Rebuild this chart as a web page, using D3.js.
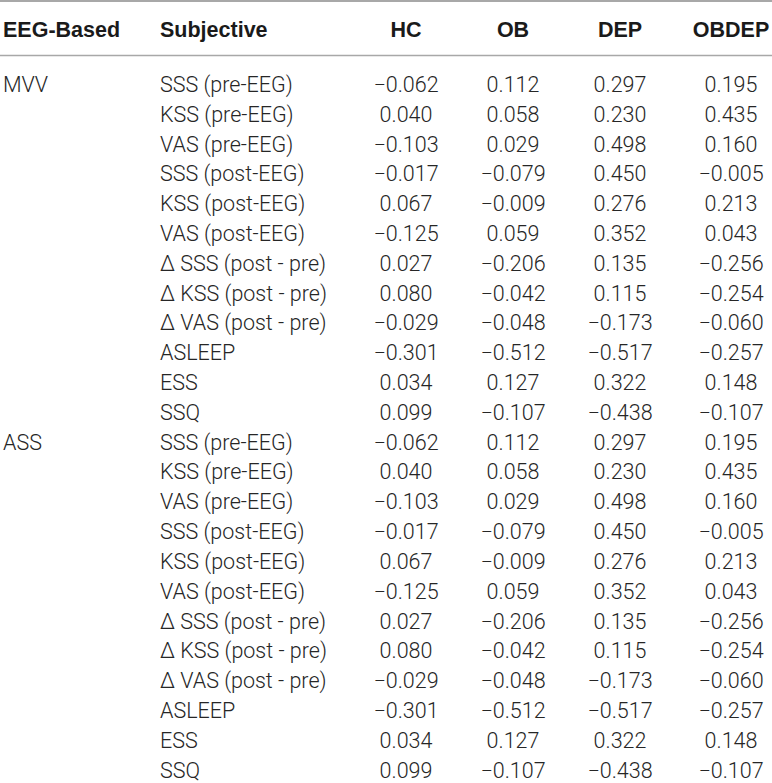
<!DOCTYPE html>
<html>
<head>
<meta charset="utf-8">
<script src="https://cdn.jsdelivr.net/npm/d3@7"></script>
<style>
  html, body { margin: 0; padding: 0; background: #fff; }
  svg { display: block; }
</style>
</head>
<body>
<script>
const headers = ["EEG-Based", "Subjective", "HC", "OB", "DEP", "OBDEP"];
const groups = ["MVV", "ASS"];
const subjective = ["SSS (pre-EEG)", "KSS (pre-EEG)", "VAS (pre-EEG)", "SSS (post-EEG)", "KSS (post-EEG)", "VAS (post-EEG)",
  "Δ SSS (post - pre)", "Δ KSS (post - pre)", "Δ VAS (post - pre)", "ASLEEP", "ESS", "SSQ"];
const HC    = [-0.062, 0.040, -0.103, -0.017, 0.067, -0.125, 0.027, 0.080, -0.029, -0.301, 0.034, 0.099];
const OB    = [0.112, 0.058, 0.029, -0.079, -0.009, 0.059, -0.206, -0.042, -0.048, -0.512, 0.127, -0.107];
const DEP   = [0.297, 0.230, 0.498, 0.450, 0.276, 0.352, 0.135, 0.115, -0.173, -0.517, 0.322, -0.438];
const OBDEP = [0.195, 0.435, 0.160, -0.005, 0.213, 0.043, -0.256, -0.254, -0.060, -0.257, 0.148, -0.107];

const W = 772, H = 783;
const headFont = "'Liberation Sans', Arial, Helvetica, sans-serif";
const bodyFont = "Roboto, 'Liberation Sans', Arial, sans-serif";
const fmt = d3.format(".3f");
const series = { HC, OB, DEP, OBDEP };
const valueCols = ["HC", "OB", "DEP", "OBDEP"];

const rows = [];
groups.forEach(g => subjective.forEach((s, i) => {
  rows.push({ group: i === 0 ? g : "", subj: s, vals: valueCols.map(c => series[c][i]) });
}));

const svg = d3.select("body").append("svg").attr("width", W).attr("height", H);

const y = d3.scalePoint().domain(d3.range(rows.length)).range([84.5, 770]);
const xVal = d3.scaleOrdinal().domain(valueCols).range([406, 513, 620, 731]);
const xLeft = d3.scaleOrdinal().domain(["EEG-Based", "Subjective"]).range([3, 160]);

// rules
svg.append("line").attr("x1", 0).attr("x2", W).attr("y1", 1).attr("y2", 1)
  .attr("stroke", "#a8a8a8").attr("stroke-width", 2);
svg.append("line").attr("x1", 0).attr("x2", W).attr("y1", 55.5).attr("y2", 55.5)
  .attr("stroke", "#a8a8a8").attr("stroke-width", 1.5);

// header
const hg = svg.append("g").attr("font-family", headFont).attr("font-weight", "bold")
  .attr("font-size", 21.5).attr("fill", "#1a1a1a");
headers.forEach(h => {
  const left = h === "EEG-Based" || h === "Subjective";
  hg.append("text")
    .attr("x", left ? xLeft(h) : xVal(h))
    .attr("y", 29.5)
    .attr("dy", "0.35em")
    .attr("text-anchor", left ? "start" : "middle")
    .text(h);
});

// body
const bg = svg.append("g").attr("font-family", bodyFont).attr("font-weight", 300)
  .attr("font-size", 21.5).attr("fill", "#262626");
const rowG = bg.selectAll("g.row").data(rows).join("g").attr("class", "row")
  .attr("transform", (d, i) => `translate(0,${y(i)})`);
rowG.append("text").attr("x", xLeft("EEG-Based")).attr("dy", "0.35em").text(d => d.group);
rowG.append("text").attr("x", xLeft("Subjective")).attr("dy", "0.35em").text(d => d.subj);
rowG.selectAll("text.v").data(d => d.vals.map((v, j) => ({ v, c: valueCols[j] }))).join("text")
  .attr("class", "v")
  .attr("x", d => xVal(d.c))
  .attr("dy", "0.35em")
  .attr("text-anchor", "middle")
  .text(d => fmt(d.v));
</script>
</body>
</html>
